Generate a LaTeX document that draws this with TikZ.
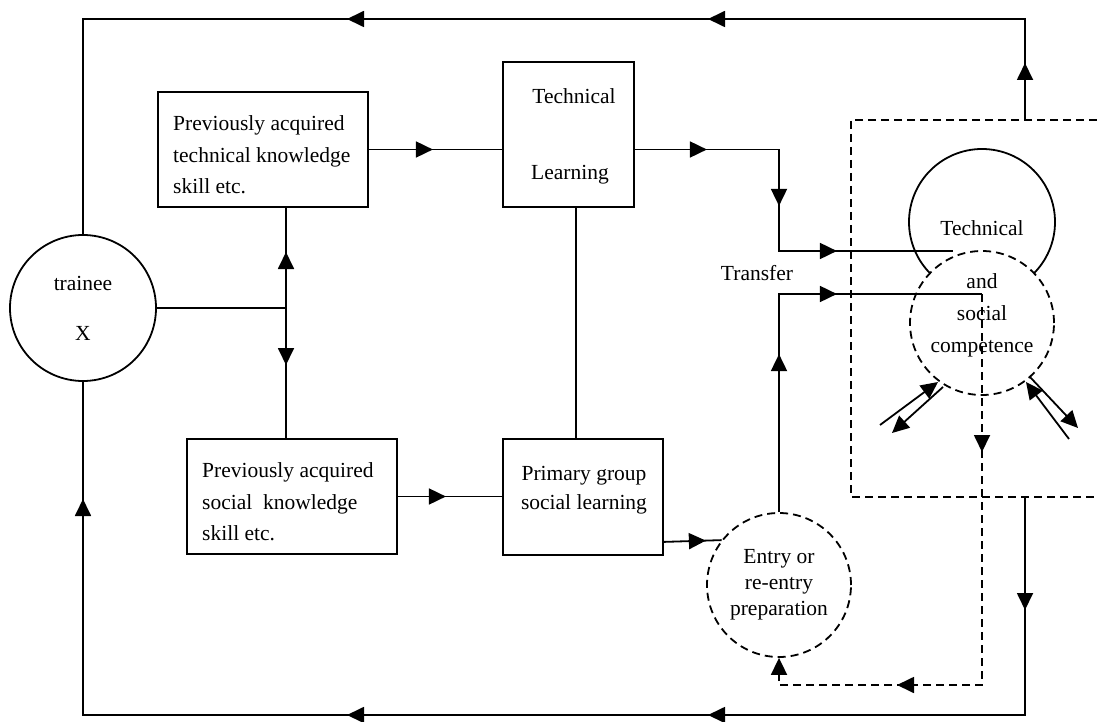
\documentclass[tikz,border=0pt]{standalone}
\usepackage{fontspec}
\setmainfont{Liberation Serif}
\usetikzlibrary{arrows.meta,decorations.markings,calc}
\begin{document}
\begin{tikzpicture}[x=1pt,y=-1pt,
  tri/.tip={Triangle[length=17pt,width=16pt]},
  ln/.style={line width=1.8pt},
  dsh/.style={line width=1.8pt, dash pattern=on 8pt off 5pt},
  arr/.style={postaction={decorate,decoration={markings,mark=at position #1 with {\arrow{tri}}}}},
  box/.style={draw, line width=1.8pt, rectangle, inner sep=0pt},
  circ/.style={draw, line width=1.8pt, circle, inner sep=0pt},
  dcirc/.style={circ, dash pattern=on 8pt off 5pt},
  txt/.style={font=\fontsize{21.5}{31.5}\selectfont, inner sep=0pt},
]
\useasboundingbox (0,0) rectangle (1097,722);

% nodes
\node[circ, minimum size=146pt, font=\fontsize{21.5}{50}\selectfont, align=center] (tr) at (83,308) {trainee\\X};
\node[box, minimum width=210pt, minimum height=115pt] (b1) at (263,149.5) {};
\node[box, minimum width=210pt, minimum height=115pt] (b2) at (292,496.5) {};
\node[box, minimum width=131pt, minimum height=145pt] (tl) at (568.5,134.5) {};
\node[box, minimum width=160pt, minimum height=116pt] (pg) at (583,497) {};
\node[dcirc, minimum size=144pt, font=\fontsize{21.5}{26}\selectfont, align=center] (en) at (779,585) {Entry or\\re-entry\\preparation};
\node[circ, minimum size=146pt] (tc) at (982,222) {};
\node[dcirc, minimum size=144pt, fill=white] (sc) at (982,323) {};

% texts
\node[txt, align=left, anchor=west] at (173,155) {Previously acquired\\technical knowledge\\skill etc.};
\node[txt, align=left, anchor=west] at (202,502) {Previously acquired\\social\ \ knowledge\\skill etc.};
\node[txt] at (574,96) {Technical};
\node[txt] at (570,175) {Learning};
\node[txt, align=center, font=\fontsize{21.5}{29.5}\selectfont] at (584,490) {Primary group\\social learning};
\node[txt] at (982,228) {Technical};
\node[txt, align=center, font=\fontsize{21.5}{32}\selectfont] at (982,315) {and\\social\\competence};
\node[txt] (tf) at (757,273) {Transfer};

% coordinates
\coordinate (jn) at (286,308);
\coordinate (vx) at (576,0);
\coordinate (tin) at (953,251);
\coordinate (cj) at (982,294);
\coordinate (rt) at (1025,120);
\coordinate (rb) at (1025,497);
\coordinate (l1a) at (880,425); \coordinate (l1b) at (938,382);
\coordinate (l2a) at (943,387); \coordinate (l2b) at (892,433);
\coordinate (r1a) at (1030,377); \coordinate (r1b) at (1078,428);
\coordinate (r2a) at (1069,439); \coordinate (r2b) at (1026,382);

% dashed frame
\draw[dsh] (1097,120) -- (851,120) -- (851,497) -- (1097,497);

% connectors
\draw[ln] (tr.east) -- (jn);
\draw[ln, arr=56pt] (jn) -- (b1.south -| jn);
\draw[ln, arr=57pt] (jn) -- (b2.north -| jn);
\draw[ln, arr=64pt] (b1.east) -- (tl.west |- b1.east);
\draw[ln] (tl.south -| vx) -- (pg.north -| vx);
\draw[ln, arr=48pt] (b2.east) -- (pg.west |- b2.east);
\draw[ln, arr=72pt, arr=200.5pt, arr=303.5pt] (tl.east |- b1.east) -- (779,149.5) -- (779,251) -- (tin);
\draw[ln, arr=42pt] ($(pg.south east)+(0,-14)$) -- (en.142);
\draw[ln, arr=158pt, arr=276pt] (en.north) -- (779,294) -- (cj);
\draw[dsh, arr=158pt, arr=476pt, -{tri}] (cj) -- (982,685) -- (779,685) -- (en.south);
\draw[ln, arr=57pt, arr=418pt, arr=779pt] (rt) -- (1025,19) -- (83,19) -- (tr.north);
\draw[ln, arr=113pt, arr=535pt, arr=896pt, arr=1376pt] (rb) -- (1025,715) -- (83,715) -- (tr.south);

% double arrows
\draw[ln, -{tri}] (l1a) -- (l1b);
\draw[ln, -{tri}] (l2a) -- (l2b);
\draw[ln, -{tri}] (r1a) -- (r1b);
\draw[ln, -{tri}] (r2a) -- (r2b);
\end{tikzpicture}
\end{document}
